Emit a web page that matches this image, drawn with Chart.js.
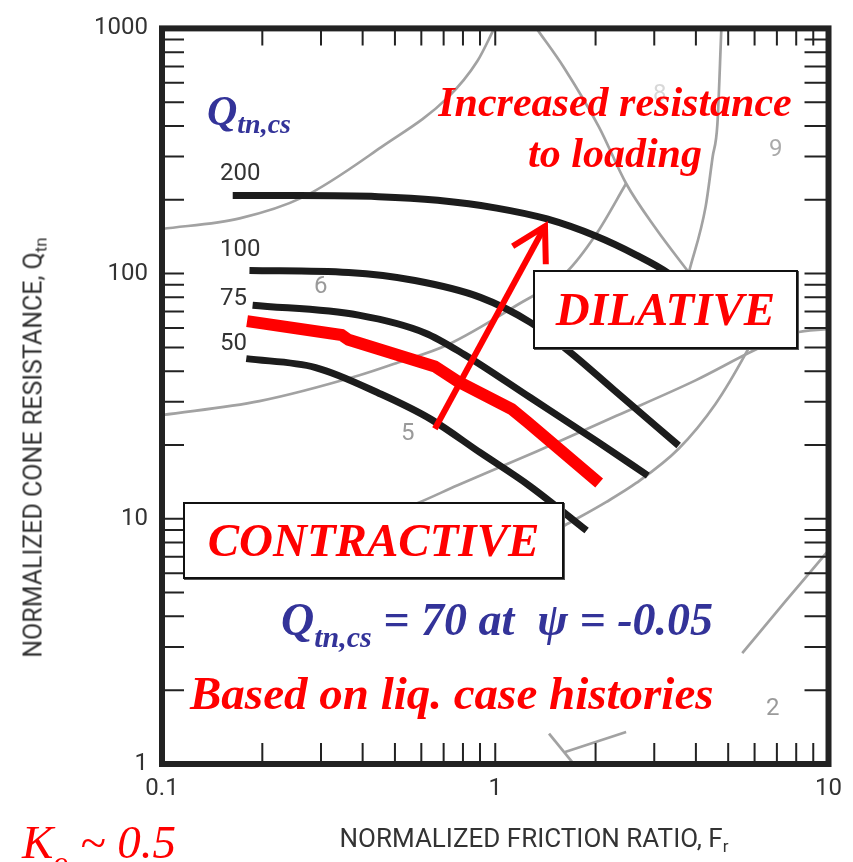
<!DOCTYPE html>
<html>
<head>
<meta charset="utf-8">
<title>Qtn,cs contours on normalized soil behaviour chart</title>
<script src="https://cdn.jsdelivr.net/npm/chart.js@4.4.1/dist/chart.umd.min.js"></script>
<style>
  html, body { margin: 0; padding: 0; background: #fff; overflow: hidden; }
  #wrap { position: relative; width: 853px; height: 862px; overflow: hidden; }
  #chart { position: absolute; left: 0; top: 0; }
  .note {
    position: absolute; white-space: nowrap; line-height: 1;
    font-family: 'Liberation Serif', 'Times New Roman', serif;
    font-weight: bold; font-style: italic;
  }
  .note sub { line-height: 1; }
  .red { color: #ff0000; }
  .blue { color: #333399; }
  .box {
    position: absolute; box-sizing: border-box; background: #fff;
    border: 2px solid #111; box-shadow: 1px 1px 0 #555;
    display: flex; align-items: center; justify-content: center;
  }
  .box .note { position: static; }
  .sans {
    position: absolute; white-space: nowrap; line-height: 1;
    font-family: Roboto, 'Liberation Sans', sans-serif; color: #333;
  }
  .sans sub { font-size: 17px; vertical-align: -5px; line-height: 1; }
  .zone { color: #9a9a9a; }
</style>
</head>
<body>
<div id="wrap">
  <canvas id="chart" width="853" height="862"></canvas>

  <!-- axis titles -->
  <div class="sans" style="left:-215px; top:433px; width:500px; text-align:center; font-size:25px; transform:rotate(-90deg);">NORMALIZED CONE RESISTANCE, Q<sub>tn</sub></div>
  <div class="sans" style="left:234px; top:825px; width:600px; text-align:center; font-size:26px;">NORMALIZED FRICTION RATIO, F<sub>r</sub></div>

  <!-- contour labels -->
  <div class="sans" style="left:220px; top:160px; font-size:24px;">200</div>
  <div class="sans" style="left:220px; top:236px; font-size:24px;">100</div>
  <div class="sans" style="left:220px; top:285px; font-size:24px;">75</div>
  <div class="sans" style="left:220px; top:330px; font-size:24px;">50</div>

  <!-- soil behaviour zones -->
  <div class="sans zone" style="left:314px; top:273px; font-size:24px;">6</div>
  <div class="sans zone" style="left:401px; top:420px; font-size:24px;">5</div>
  <div class="sans zone" style="left:653px; top:81px; font-size:24px; color:#d8d8d8;">8</div>
  <div class="sans zone" style="left:769px; top:136px; font-size:24px; color:#aaa;">9</div>
  <div class="sans zone" style="left:766px; top:695px; font-size:24px;">2</div>

  <!-- annotations -->
  <div class="note blue" style="left:207px; top:90px; font-size:42px;">Q<sub style="font-size:28px; vertical-align:-8px;">tn,cs</sub></div>
  <div class="note red" style="left:420px; top:77px; width:390px; text-align:center; font-size:42px; line-height:51px;">Increased resistance<br>to loading</div>
  <div class="box" style="left:533px; top:270px; width:265px; height:79px;"><span class="note red" style="font-size:47px;">DILATIVE</span></div>
  <div class="box" style="left:183px; top:502px; width:381px; height:77px;"><span class="note red" style="font-size:47px;">CONTRACTIVE</span></div>
  <div class="note blue" style="left:281px; top:597px; font-size:46px;">Q<sub style="font-size:30px; vertical-align:-12px;">tn,cs</sub> = 70 at &nbsp;ψ = -0.05</div>
  <div class="note red" style="left:190px; top:670px; font-size:47px;">Based on liq. case histories</div>
  <div class="note red" style="left:22px; top:819px; font-size:47px; font-weight:normal;">K<sub style="font-size:30px; vertical-align:-14px;">o</sub> ~ 0.5</div>
</div>

<script>
// Axis ticks (log decades) and the ones that carry a label
const xTickValues = [0.1, 0.2, 0.3, 0.4, 0.5, 0.6, 0.7, 0.8, 0.9,
                     1, 2, 3, 4, 5, 6, 7, 8, 9, 10];
const yTickValues = [1, 2, 3, 4, 5, 6, 7, 8, 9,
                     10, 20, 30, 40, 50, 60, 70, 80, 90,
                     100, 200, 300, 400, 500, 600, 700, 800, 900, 1000];
const xLabelValues = [0.1, 1, 10];
const xLabelText = ['0.1', '1', '10'];
const yLabelValues = [1, 10, 100, 1000];
const yLabelText = ['1', '10', '100', '1000'];

// Qtn,cs contours (Fr in %, Qtn)
const frQ200 = [0.163, 0.257, 0.446, 0.672, 1.01, 1.43, 2.01, 2.65, 3.32, 3.99];
const qtnQ200 = [208, 208, 206, 199, 185, 167, 142, 119, 100, 81.5];
const frQ100 = [0.183, 0.363, 0.574, 0.902, 1.27, 1.67, 2.26, 3.55];
const qtnQ100 = [103, 101, 93.7, 80.0, 63.4, 48.0, 33.7, 19.9];
const frQ75 = [0.187, 0.389, 0.615, 0.809, 1.27, 2.01, 2.87];
const qtnQ75 = [74.3, 67.7, 57.3, 46.7, 31.3, 20.8, 15.0];
const frQ50 = [0.179, 0.289, 0.455, 0.640, 0.902, 1.27, 1.88];
const qtnQ50 = [45.0, 41.4, 32.2, 25.5, 18.6, 13.6, 8.95];

// Qtn,cs = 70 line (liq. case histories), hand drawn so no smoothing
const frPsi = [0.180, 0.346, 0.363, 0.659, 0.771, 1.12, 1.25, 2.05];
const qtnPsi = [64.0, 56.2, 53.7, 41.8, 36.4, 28.0, 24.8, 14.0];

// "Increased resistance" arrow, tail then tip
const frArrow = [0.659, 1.41];
const qtnArrow = [23.3, 156];

// Soil behaviour type boundaries (grey)
const frZone76 = [0.1, 0.171, 0.265, 0.455, 0.720, 0.884, 0.993];
const qtnZone76 = [152, 168, 205, 328, 522, 736, 1000];
const frZone65 = [0.1, 0.196, 0.389, 0.511, 0.720, 1.16, 1.62, 2.01, 2.47];
const qtnZone65 = [26.5, 30.2, 38.4, 43.4, 51.3, 74.3, 100, 145, 233];
const frZone8a = [1.33, 1.61, 2.05, 2.47, 3.04, 3.81];
const qtnZone8a = [1000, 690, 395, 233, 152, 101];
const frZone89 = [3.81, 4.28, 4.49, 4.64, 4.77];
const qtnZone89 = [101, 188, 299, 406, 1000];
const frZone54 = [0.511, 0.586, 0.771, 1.33, 2.31, 3.99, 6.03, 7.92, 10];
const qtnZone54 = [10.8, 11.6, 13.7, 18.8, 26.3, 36.7, 48.9, 57.3, 59.5];
const frZone43 = [1.16, 1.61, 2.15, 2.65, 3.55, 4.58, 5.62, 6.45];
const qtnZone43 = [7.3, 9.37, 11.7, 14.0, 19.3, 29.4, 46.7, 67.7];
const frZone32 = [5.51, 7.4, 10];
const qtnZone32 = [2.83, 4.58, 7.43];
const frZone1a = [1.45, 1.70];
const qtnZone1a = [1.33, 1.02];
const frZone1b = [1.62, 2.47];
const qtnZone1b = [1.12, 1.35];

const RED = '#ff0000';
const BLACK = '#1c1c1c';
const GREY = '#a2a2a2';

function toPoints(frs, qtns) {
  return frs.map((fr, i) => ({x: fr, y: qtns[i]}));
}

// smooth = monotone cubic through the read points, otherwise straight segments
function curve(label, frs, qtns, colour, width, smooth) {
  return {
    label: label,
    data: toPoints(frs, qtns),
    borderColor: colour,
    borderWidth: width,
    cubicInterpolationMode: smooth ? 'monotone' : 'default',
    tension: smooth ? 0.4 : 0,
    pointRadius: 0,
    fill: false,
  };
}

function labelFor(value, values, texts) {
  const idx = values.indexOf(value);
  return idx === -1 ? '' : texts[idx];
}

// Frame, inward tick marks and the arrow head
const framePlugin = {
  id: 'frame',
  afterDatasetsDraw(chart) {
    const {ctx, chartArea: area, scales} = chart;
    ctx.save();

    ctx.strokeStyle = '#222';
    ctx.lineWidth = 2;
    ctx.beginPath();
    xTickValues.forEach(v => {
      const px = scales.x.getPixelForValue(v);
      ctx.moveTo(px, area.top);
      ctx.lineTo(px, area.top + 17);
      ctx.moveTo(px, area.bottom);
      ctx.lineTo(px, area.bottom - 21);
    });
    yTickValues.forEach(v => {
      const py = scales.y.getPixelForValue(v);
      ctx.moveTo(area.left, py);
      ctx.lineTo(area.left + 22, py);
      ctx.moveTo(area.right, py);
      ctx.lineTo(area.right - 24, py);
    });
    ctx.stroke();

    ctx.lineWidth = 6;
    ctx.strokeRect(area.left, area.top, area.right - area.left, area.bottom - area.top);

    // arrow head on the last point of dataset 0
    const pts = chart.getDatasetMeta(0).data;
    const tail = pts[0];
    const tip = pts[pts.length - 1];
    const ang = Math.atan2(tail.y - tip.y, tail.x - tip.x);
    ctx.strokeStyle = RED;
    ctx.lineWidth = 6;
    ctx.lineJoin = 'miter';
    ctx.beginPath();
    ctx.moveTo(tip.x + 38 * Math.cos(ang - 0.52), tip.y + 38 * Math.sin(ang - 0.52));
    ctx.lineTo(tip.x, tip.y);
    ctx.lineTo(tip.x + 38 * Math.cos(ang + 0.52), tip.y + 38 * Math.sin(ang + 0.52));
    ctx.stroke();

    ctx.restore();
  }
};

const tickFont = {family: 'Roboto', size: 24};

// dataset 0 is drawn on top, the last one at the bottom
const chart = new Chart(document.getElementById('chart').getContext('2d'), {
  type: 'line',
  data: {
    datasets: [
      curve('arrow', frArrow, qtnArrow, RED, 6, false),
      curve('Qtn,cs = 70', frPsi, qtnPsi, RED, 12, false),
      curve('200', frQ200, qtnQ200, BLACK, 7, true),
      curve('100', frQ100, qtnQ100, BLACK, 7, true),
      curve('75', frQ75, qtnQ75, BLACK, 7, true),
      curve('50', frQ50, qtnQ50, BLACK, 7, true),
      curve('7/6', frZone76, qtnZone76, GREY, 2.7, true),
      curve('6/5', frZone65, qtnZone65, GREY, 2.7, true),
      curve('8', frZone8a, qtnZone8a, GREY, 2.7, true),
      curve('8/9', frZone89, qtnZone89, GREY, 2.7, true),
      curve('5/4', frZone54, qtnZone54, GREY, 2.7, true),
      curve('4/3', frZone43, qtnZone43, GREY, 2.7, true),
      curve('3/2', frZone32, qtnZone32, GREY, 2.7, true),
      curve('1a', frZone1a, qtnZone1a, GREY, 2.7, false),
      curve('1b', frZone1b, qtnZone1b, GREY, 2.7, false),
    ],
  },
  options: {
    responsive: false,
    animation: false,
    events: [],
    layout: {padding: {top: 20, right: 20, bottom: 0, left: 0}},
    plugins: {
      legend: {display: false},
      tooltip: {enabled: false},
    },
    scales: {
      x: {
        type: 'logarithmic',
        min: 0.1,
        max: 10,
        afterFit: scale => { scale.height = 98; },
        afterBuildTicks: scale => { scale.ticks = xTickValues.map(v => ({value: v})); },
        grid: {display: false, drawTicks: false},
        border: {display: false},
        ticks: {
          autoSkip: false,
          maxRotation: 0,
          padding: 11,
          color: '#333',
          font: tickFont,
          callback: v => labelFor(v, xLabelValues, xLabelText),
        },
      },
      y: {
        type: 'logarithmic',
        min: 1,
        max: 1000,
        afterFit: scale => { scale.width = 162; },
        afterBuildTicks: scale => { scale.ticks = yTickValues.map(v => ({value: v})); },
        grid: {display: false, drawTicks: false},
        border: {display: false},
        ticks: {
          autoSkip: false,
          padding: 14,
          color: '#333',
          font: tickFont,
          callback: v => labelFor(v, yLabelValues, yLabelText),
        },
      },
    },
  },
  plugins: [framePlugin],
});
</script>
</body>
</html>
